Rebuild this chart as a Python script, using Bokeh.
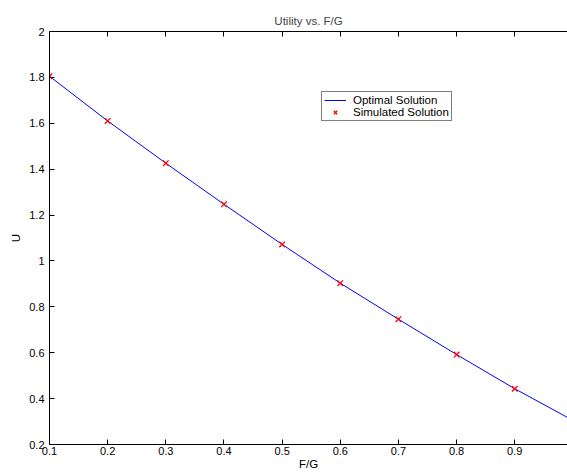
from bokeh.plotting import figure
from bokeh.models import Range1d, LinearAxis, FixedTicker, Legend, LegendItem
from bokeh.embed import file_html
from bokeh.resources import INLINE

# ---- data ----
sim_x = [0.1, 0.2, 0.3, 0.4, 0.5, 0.6, 0.7, 0.8, 0.9]
sim_u = [1.805, 1.61, 1.426, 1.247, 1.072, 0.903, 0.746, 0.592, 0.443]
opt_x = [0.1, 0.2, 0.3, 0.4, 0.5, 0.6, 0.7, 0.8, 0.9, 1.0]
opt_u = [1.805, 1.61, 1.426, 1.247, 1.072, 0.903, 0.746, 0.592, 0.443, 0.305]
x_ticks = [0.1, 0.2, 0.3, 0.4, 0.5, 0.6, 0.7, 0.8, 0.9]
x_tick_labels = ["0.1", "0.2", "0.3", "0.4", "0.5", "0.6", "0.7", "0.8", "0.9"]
y_ticks = [0.2, 0.4, 0.6, 0.8, 1.0, 1.2, 1.4, 1.6, 1.8, 2.0]
y_tick_labels = ["0.2", "0.4", "0.6", "0.8", "1", "1.2", "1.4", "1.6", "1.8", "2"]

FONT = "Liberation Sans"

p = figure(width=567, height=472, output_backend="svg", toolbar_location=None,
           x_range=Range1d(0.1, 0.9907), y_range=Range1d(0.2, 2.0),
           min_border_left=49, min_border_right=0, min_border_top=31,
           min_border_bottom=28, x_axis_location=None, y_axis_location=None)
p.outline_line_color = None
p.grid.visible = False
p.background_fill_color = "white"
p.border_fill_color = "white"

def style(ax, ticks, labels):
    ax.ticker = FixedTicker(ticks=ticks)
    ax.major_label_overrides = {t: l for t, l in zip(ticks, labels)}
    ax.major_tick_in = 5
    ax.major_tick_out = 0
    ax.minor_tick_line_color = None
    ax.axis_line_color = "black"
    ax.major_tick_line_color = "black"
    ax.major_label_text_font = FONT
    ax.major_label_text_font_size = "11px"
    ax.major_label_text_color = "black"
    ax.axis_label_text_font = FONT
    ax.axis_label_text_font_size = "11.5px"
    ax.axis_label_text_font_style = "normal"
    ax.axis_label_text_color = "black"

xb = LinearAxis(axis_label="F/G")
style(xb, x_ticks, x_tick_labels)
xb.major_label_standoff = 2
xb.axis_label_standoff = 0
p.add_layout(xb, "below")

xt = LinearAxis()
style(xt, x_ticks, ["" for _ in x_ticks])
xt.major_label_standoff = 0
p.add_layout(xt, "above")

yl = LinearAxis(axis_label="U")
style(yl, y_ticks, y_tick_labels)
yl.major_label_standoff = 5
yl.axis_label_standoff = 4
p.add_layout(yl, "left")

p.title.text = "Utility vs. F/G"
p.title.text_font = FONT
p.title.text_font_size = "11.5px"
p.title.text_font_style = "normal"
p.title.align = "center"
p.title.standoff = 9

r_line = p.line(opt_x, opt_u, line_color="#0000ff", line_width=1)
r_pts = p.scatter(sim_x, sim_u, marker="x", size=8, line_color="#ff0000", line_width=1.3)

legend = Legend(items=[LegendItem(label="Optimal Solution", renderers=[r_line]),
                       LegendItem(label="Simulated Solution", renderers=[r_pts])],
                location=(272, 323))
legend.label_text_font = FONT
legend.label_text_font_size = "11.5px"
legend.label_text_color = "black"
legend.border_line_color = "black"
legend.border_line_width = 1
legend.background_fill_color = "white"
legend.background_fill_alpha = 1
legend.padding = 2
legend.spacing = 0
legend.margin = 0
legend.glyph_width = 22
legend.glyph_height = 12
legend.label_height = 12
legend.label_standoff = 7
legend.label_width = 96
p.add_layout(legend, "center")

open("out.html", "w").write(file_html(p, INLINE))
